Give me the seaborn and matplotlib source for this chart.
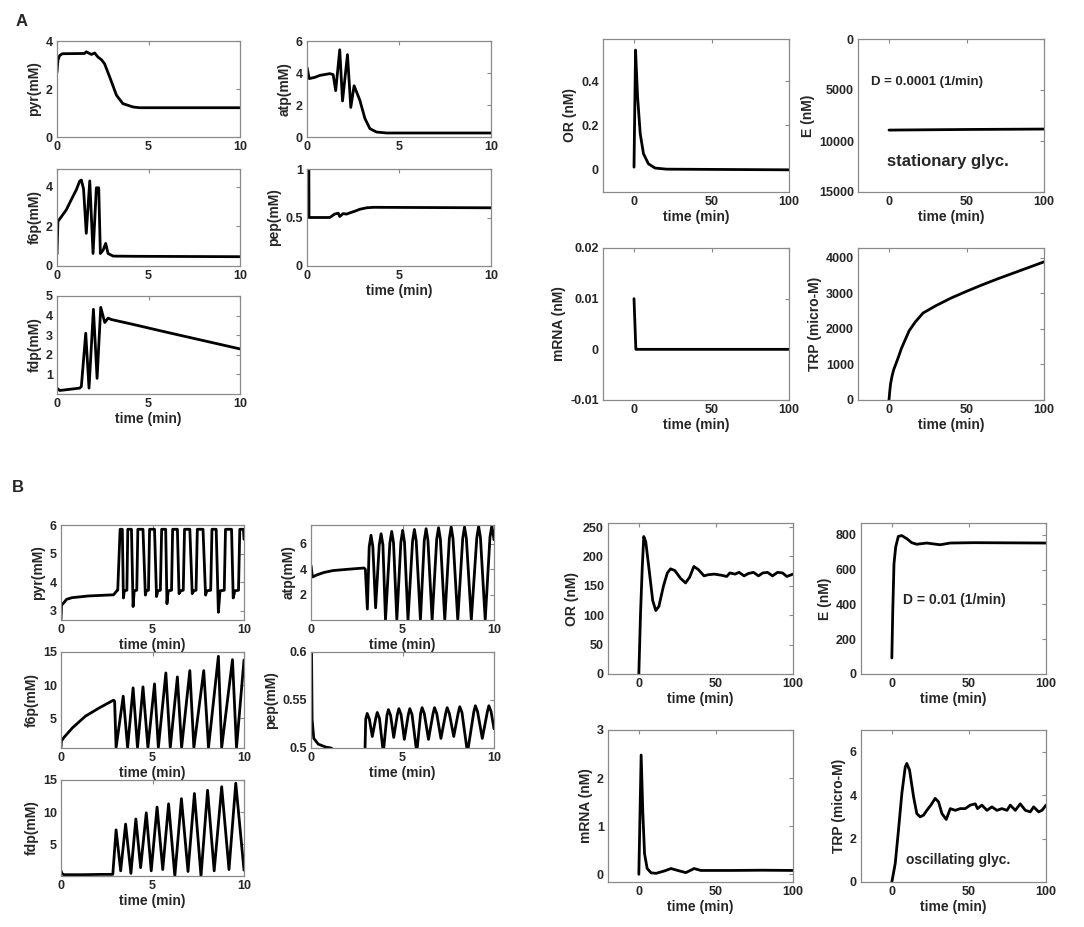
import matplotlib
matplotlib.use("Agg")
import matplotlib.pyplot as plt
from matplotlib.ticker import FuncFormatter
import seaborn as sns

sns.set_style("white")
plt.rcParams['font.family'] = ['Liberation Sans', 'DejaVu Sans']
plt.rcParams['font.weight'] = 'bold'
plt.rcParams['axes.unicode_minus'] = False

# ---------------- data ----------------
# panel A, glycolysis (time in min, values in mM)
a_pyr_t = [0, 0.05, 0.15, 0.3, 1.5, 1.6, 1.88, 2.06, 2.24, 2.43, 2.6, 2.88, 3.25, 3.6, 4.16, 4.5, 10]
a_pyr = [2.7, 3.2, 3.4, 3.47, 3.48, 3.55, 3.44, 3.5, 3.33, 3.22, 3.05, 2.5, 1.74, 1.39, 1.25, 1.22, 1.22]

a_atp_t = [0, 0.12, 0.4, 0.7, 1.24, 1.42, 1.56, 1.78, 1.93, 2.2, 2.38, 2.56, 2.7, 2.87, 3.15, 3.42, 3.78, 4.33, 10]
a_atp = [4.35, 3.65, 3.72, 3.85, 3.96, 3.9, 2.9, 5.45, 2.25, 5.15, 1.85, 3.2, 2.8, 2.3, 1.15, 0.52, 0.31, 0.25, 0.25]

a_f6p_t = [0, 0.05, 0.51, 0.78, 1.06, 1.24, 1.33, 1.45, 1.6, 1.79, 1.97, 2.15, 2.28, 2.37, 2.52, 2.66, 2.79, 3.07, 4.16, 10]
a_f6p = [0.6, 2.25, 2.84, 3.35, 3.86, 4.29, 4.34, 3.9, 1.65, 4.3, 0.63, 3.95, 3.95, 0.63, 0.8, 1.14, 0.63, 0.5, 0.49, 0.47]

a_pep_t = [0, 0.1, 0.11, 1.24, 1.5, 1.7, 1.78, 1.96, 2.15, 2.33, 2.6, 2.87, 3.24, 3.6, 10]
a_pep = [1.0, 1.0, 0.5, 0.5, 0.535, 0.545, 0.51, 0.54, 0.535, 0.548, 0.565, 0.585, 0.6, 0.605, 0.6]

a_fdp_t = [0, 0.15, 1.24, 1.33, 1.57, 1.75, 1.99, 2.19, 2.39, 2.61, 2.79, 2.97, 4.16, 6.0, 10]
a_fdp = [0.3, 0.18, 0.3, 0.38, 3.1, 0.3, 4.32, 0.8, 4.42, 3.65, 3.87, 3.8, 3.55, 3.15, 2.3]

# panel A, trp operon
a_or_t = [0, 1.0, 2.3, 4, 6.1, 9.3, 13.6, 21, 100]
a_or = [0.012, 0.54, 0.33, 0.164, 0.073, 0.027, 0.008, 0.003, 0.0]

a_e_t = [0, 50, 100]
a_e = [8930, 8870, 8830]

a_mrna_t = [0, 1.2, 100]
a_mrna = [0.01, 0.0, 0.0]

a_trp_t = [0, 0.5, 1, 2, 3, 4.3, 6, 8, 10, 13, 17, 22, 30, 40, 50, 60, 70, 80, 90, 100]
a_trp = [0, 250, 450, 680, 850, 1000, 1200, 1450, 1650, 1950, 2200, 2450, 2650, 2870, 3060, 3240, 3410, 3570, 3730, 3890]

# panel B, glycolysis
b_pyr_t = [0, 0.03, 0.15, 0.3, 0.6, 1.5, 2.5, 2.87, 3.05,
           3.10, 3.23, 3.35, 3.41, 3.46, 3.60,
           3.65, 3.85, 3.94, 4.00, 4.14,
           4.20, 4.48, 4.61, 4.66, 4.78,
           4.84, 5.11, 5.22, 5.29, 5.43,
           5.50, 5.72, 5.79, 5.86, 6.04,
           6.10, 6.36, 6.45, 6.54, 6.68,
           6.75, 7.04, 7.17, 7.26, 7.38,
           7.45, 7.76, 7.90, 7.97, 8.18,
           8.25, 8.48, 8.60, 8.69, 8.92,
           8.99, 9.32, 9.41, 9.50, 9.70,
           9.77, 9.97, 10.0]
b_pyr = [2.7, 3.2, 3.28, 3.4, 3.46, 3.52, 3.55, 3.56, 3.7,
         3.72, 5.85, 5.85, 3.45, 3.7, 3.72,
         5.85, 5.85, 3.15, 3.7, 3.72,
         5.85, 5.85, 3.55, 3.7, 3.72,
         5.85, 5.85, 3.5, 3.7, 3.72,
         5.85, 5.85, 3.25, 3.7, 3.72,
         5.85, 5.85, 3.6, 3.7, 3.72,
         5.85, 5.85, 3.6, 3.7, 3.72,
         5.85, 5.85, 3.55, 3.7, 3.72,
         5.85, 5.85, 2.95, 3.7, 3.72,
         5.85, 5.85, 3.45, 3.7, 3.72,
         5.85, 5.85, 5.5]

b_atp_t = [0, 0.08, 0.3, 0.7, 1.2, 2.0, 2.9, 2.97, 3.08,
           3.18, 3.28, 3.38, 3.53,
           3.73, 3.83, 3.93, 4.07,
           4.31, 4.41, 4.51, 4.69,
           4.91, 5.01, 5.11, 5.30,
           5.55, 5.65, 5.75, 5.98,
           6.19, 6.29, 6.39, 6.62,
           6.87, 6.97, 7.07, 7.31,
           7.56, 7.66, 7.76, 8.02,
           8.29, 8.39, 8.49, 8.76,
           9.06, 9.16, 9.26, 9.52,
           9.78, 9.88, 9.98, 10.0]
b_atp = [4.3, 3.4, 3.55, 3.75, 3.9, 4.0, 4.1, 4.0, 0.9,
         5.75, 6.65, 5.75, 1.0,
         5.9, 6.77, 5.9, 0.05,
         6.05, 6.95, 6.05, 0.05,
         6.1, 7.03, 6.1, 0.05,
         6.2, 7.1, 6.2, 0.05,
         6.25, 7.16, 6.25, 0.05,
         6.35, 7.24, 6.35, 0.05,
         6.4, 7.3, 6.4, 0.05,
         6.4, 7.3, 6.4, 0.05,
         6.45, 7.35, 6.45, 0.05,
         6.5, 7.4, 6.5, 6.3]

b_f6p_t = [0, 0.02, 0.18, 0.63, 1.34, 2.1, 2.87, 2.93, 3.01,
           3.40, 3.64, 3.94, 4.18, 4.48, 4.75, 5.11, 5.32, 5.73, 5.97, 6.36,
           6.59, 7.04, 7.26, 7.80, 8.06, 8.60, 8.78, 9.37, 9.59, 10.0]
b_f6p = [0.6, 1.6, 2.2, 3.6, 5.35, 6.6, 7.75, 7.6, 0.6,
         8.35, 0.6, 9.6, 0.6, 9.75, 0.6, 10.2, 0.6, 11.85, 0.6, 11.25,
         0.6, 12.2, 0.6, 12.2, 0.6, 14.35, 0.6, 13.85, 0.6, 13.8]

b_pep_t = [0, 0.03, 0.06, 0.15, 0.4, 0.8, 1.1, 1.3, 2.95,
           2.99, 3.07, 3.19, 3.35,
           3.54, 3.62, 3.74, 3.95,
           4.15, 4.23, 4.35, 4.52,
           4.72, 4.80, 4.92, 5.10,
           5.32, 5.40, 5.52, 5.78,
           5.99, 6.07, 6.19, 6.42,
           6.67, 6.75, 6.87, 7.10,
           7.36, 7.44, 7.56, 7.80,
           8.05, 8.13, 8.25, 8.55,
           8.90, 8.98, 9.10, 9.36,
           9.64, 9.72, 9.84, 10.0]
b_pep = [0.6, 0.6, 0.53, 0.51, 0.504, 0.501, 0.5, 0.497, 0.497,
         0.530, 0.536, 0.530, 0.512,
         0.531, 0.537, 0.531, 0.495,
         0.534, 0.540, 0.534, 0.511,
         0.535, 0.541, 0.535, 0.509,
         0.535, 0.541, 0.535, 0.495,
         0.536, 0.542, 0.536, 0.509,
         0.536, 0.542, 0.536, 0.510,
         0.536, 0.542, 0.536, 0.512,
         0.537, 0.543, 0.537, 0.495,
         0.538, 0.544, 0.538, 0.510,
         0.538, 0.544, 0.538, 0.520]

b_fdp_t = [0, 0.05, 0.15, 1.2, 2.2, 2.83,
           3.01, 3.26, 3.53, 3.82, 4.09, 4.35, 4.66, 4.93, 5.25, 5.56, 5.88,
           6.22, 6.58, 6.94, 7.29, 7.65, 8.01, 8.37, 8.78, 9.18, 9.55, 10.0]
b_fdp = [0.9, 0.5, 0.3, 0.3, 0.35, 0.35,
         7.26, 0.9, 8.16, 0.5, 8.95, 1.4, 9.9, 0.9, 10.8, 1.1, 11.3,
         0.1, 12.1, 0.8, 12.9, 0.1, 13.4, 0.9, 13.95, 1.1, 14.5, 1.0]

# panel B, trp operon
b_or_t = [0, 1.1, 2.2, 3.2, 4.5, 7, 9, 11, 13, 16, 18.5, 20.6, 23.4, 27, 30.3, 33, 35.7, 38.5,
          42.3, 45, 49, 53.8, 57, 59, 62.4, 65, 68.3, 71, 74.4, 77.6, 80.4, 83.5, 86.7, 90,
          93.2, 96, 100]
b_or = [0, 103, 180, 234, 225, 170, 125, 108, 115, 150, 172, 179, 176, 163, 155, 165, 183, 178,
        167, 169, 170, 168, 166, 172, 170, 173, 167, 171, 173, 167, 172, 173, 167, 173,
        172, 166, 170]

b_e_t = [0, 0.56, 1.4, 2.5, 4.2, 6.4, 9.7, 12.9, 16.1, 22.6, 31.3, 37.8, 52.9, 100]
b_e = [92, 346, 634, 729, 790, 795, 777, 754, 745, 752, 742, 752, 754, 752]

b_mrna_t = [0, 1.5, 2.6, 3.7, 5.4, 8, 11.2, 16.6, 20.9, 25.2, 30.5, 35.9, 40.2, 60, 80, 100]
b_mrna = [0, 2.48, 1.27, 0.43, 0.12, 0.03, 0.02, 0.07, 0.12, 0.08, 0.035, 0.12, 0.08, 0.08, 0.085, 0.08]

b_trp_t = [0, 2.2, 4.3, 6.5, 8.7, 9.7, 11.5, 14.1, 16.2, 18.4, 20.6, 22.7, 25.3, 28.1, 30.3,
           32.5, 35.3, 37.9, 41.1, 44.4, 47.6, 50.9, 54.1, 55.6, 58.4, 61.7, 64.9, 68.2, 71.4,
           74.7, 76.8, 80.1, 83.3, 86.6, 89.8, 92, 95.2, 97.4, 100]
b_trp = [0, 0.85, 2.38, 4.08, 5.3, 5.46, 5.15, 3.92, 3.15, 3.0, 3.08, 3.3, 3.54, 3.85, 3.69,
         3.15, 2.88, 3.38, 3.3, 3.38, 3.38, 3.54, 3.6, 3.38, 3.54, 3.3, 3.46, 3.3, 3.38,
         3.3, 3.54, 3.3, 3.6, 3.3, 3.23, 3.46, 3.23, 3.3, 3.54]

# ---------------- layout ----------------
W, H = 1084, 927
fig = plt.figure(figsize=(W / 100, H / 100), dpi=100)
fig.patch.set_facecolor('white')

frame = '#8a8a8a'
fmt = FuncFormatter(lambda v, p: f'{v:g}')


def panel(box, t, v, ylabel, xlim, xticks, ylim, yticks, xlabel=None):
    l, top, r, b = box
    ax = fig.add_axes([l / W, 1 - b / H, (r - l) / W, (b - top) / H])
    sns.lineplot(x=t, y=v, ax=ax, color='black', linewidth=2.0,
                 estimator=None, sort=False)
    ax.set_xlim(*xlim)
    ax.set_ylim(*ylim)
    ax.set_xticks(xticks)
    ax.set_yticks(yticks)
    ax.xaxis.set_major_formatter(fmt)
    ax.yaxis.set_major_formatter(fmt)
    ax.tick_params(direction='in', top=True, right=True, length=3, width=0.8,
                   color=frame, labelsize=9, pad=3)
    for lab in ax.get_xticklabels() + ax.get_yticklabels():
        lab.set_fontweight('bold')
    for s in ax.spines.values():
        s.set_color(frame)
        s.set_linewidth(0.9)
    ax.set_ylabel(ylabel, fontsize=10, fontweight='bold', labelpad=3)
    if xlabel:
        ax.set_xlabel(xlabel, fontsize=10, fontweight='bold', labelpad=1)
    else:
        ax.set_xlabel('')
    return ax


tm = 'time (min)'
g10 = (0, 10)
gx = [0, 5, 10]
ox = (-20, 100)
oxt = [0, 50, 100]

# panel A
panel((57, 41, 240, 137), a_pyr_t, a_pyr, 'pyr(mM)', g10, gx, (0, 4), [0, 2, 4])
panel((307, 41, 491, 137), a_atp_t, a_atp, 'atp(mM)', g10, gx, (0, 6), [0, 2, 4, 6])
panel((57, 169, 240, 266), a_f6p_t, a_f6p, 'f6p(mM)', g10, gx, (0, 4.9), [0, 2, 4])
panel((307, 169, 491, 266), a_pep_t, a_pep, 'pep(mM)', g10, gx, (0, 1), [0, 0.5, 1], tm)
panel((57, 296, 240, 394), a_fdp_t, a_fdp, 'fdp(mM)', g10, gx, (0.0, 5), [1, 2, 3, 4, 5], tm)

panel((603, 39, 789, 192), a_or_t, a_or, 'OR (nM)', ox, oxt, (-0.1, 0.59), [0, 0.2, 0.4], tm)
ax_ae = panel((858, 39, 1044, 192), a_e_t, a_e, 'E (nM)', ox, oxt, (15000, 0),
              [0, 5000, 10000, 15000], tm)
ax_ae.text(-11.4, 4170, 'D = 0.0001 (1/min)', fontsize=9.5, fontweight='bold', va='center')
ax_ae.text(-1.3, 11980, 'stationary glyc.', fontsize=12, fontweight='bold', va='center')
panel((603, 248, 789, 400), a_mrna_t, a_mrna, 'mRNA (nM)', ox, oxt, (-0.01, 0.02),
      [-0.01, 0, 0.01, 0.02], tm)
panel((858, 248, 1044, 400), a_trp_t, a_trp, 'TRP (micro-M)', ox, oxt, (0, 4280),
      [0, 1000, 2000, 3000, 4000], tm)

# panel B
panel((61, 525, 244, 620), b_pyr_t, b_pyr, 'pyr(mM)', g10, gx, (2.68, 6), [3, 4, 5, 6], tm)
panel((311, 525, 494, 620), b_atp_t, b_atp, 'atp(mM)', g10, gx, (0.05, 7.45), [2, 4, 6], tm)
panel((61, 652, 244, 748), b_f6p_t, b_f6p, 'f6p(mM)', g10, gx, (0.55, 15), [5, 10, 15], tm)
panel((311, 652, 494, 748), b_pep_t, b_pep, 'pep(mM)', g10, gx, (0.5, 0.6), [0.5, 0.55, 0.6], tm)
panel((61, 780, 244, 876), b_fdp_t, b_fdp, 'fdp(mM)', g10, gx, (0.1, 15), [5, 10, 15], tm)

panel((608, 523, 793, 674), b_or_t, b_or, 'OR (nM)', ox, oxt, (0, 257),
      [0, 50, 100, 150, 200, 250], tm)
ax_be = panel((861, 523, 1046, 674), b_e_t, b_e, 'E (nM)', ox, oxt, (0, 867),
              [0, 200, 400, 600, 800], tm)
ax_be.text(7.1, 423, 'D = 0.01 (1/min)', fontsize=10, fontweight='bold', va='center')
panel((608, 730, 793, 882), b_mrna_t, b_mrna, 'mRNA (nM)', ox, oxt, (-0.16, 3), [0, 1, 2, 3], tm)
ax_bt = panel((861, 730, 1046, 882), b_trp_t, b_trp, 'TRP (micro-M)', ox, oxt, (0, 7), [0, 2, 4, 6], tm)
ax_bt.text(9.3, 1.0, 'oscillating glyc.', fontsize=10, fontweight='bold', va='center')

fig.text(16 / W, 1 - 22 / H, 'A', fontsize=12, fontweight='bold', va='center')
fig.text(12 / W, 1 - 487 / H, 'B', fontsize=12, fontweight='bold', va='center')

fig.savefig('out.png', dpi=100, facecolor='white')
